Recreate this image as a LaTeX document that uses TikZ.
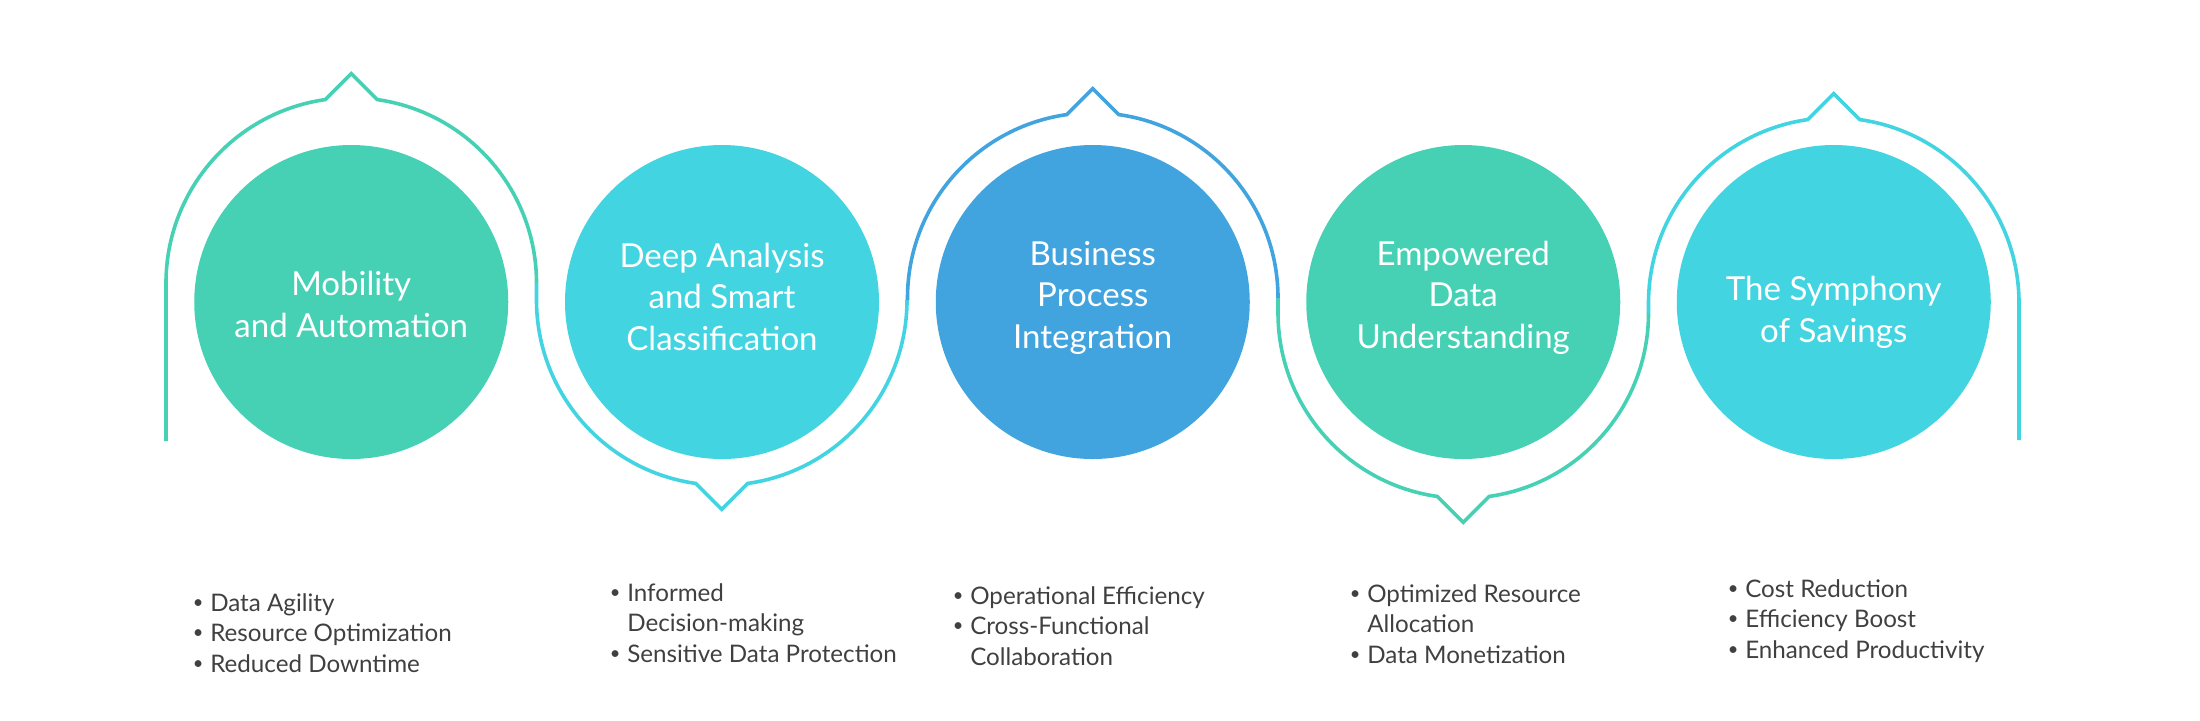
\documentclass[tikz,border=0pt]{standalone}
\usepackage{fontspec}
\setmainfont{Lato}
\definecolor{cgreen}{HTML}{46D1B5}
\definecolor{ccyan}{HTML}{42D4E0}
\definecolor{cblue}{HTML}{42A4DE}
\definecolor{ctext}{HTML}{404040}
\newcommand\lbul{\makebox[12.45pt][l]{\raisebox{0.12em}{\fontsize{13}{13}\selectfont\textbullet}}}
\newcommand\lind{\makebox[12.45pt]{}}
\begin{document}
\begin{tikzpicture}[x=0.25mm, y=-0.25mm,
  disc/.style={circle, minimum size=78.5mm, inner sep=0pt, draw=none},
  title/.style={text=white, align=center, font=\fontsize{23.5}{29.2}\selectfont, inner sep=0pt, anchor=base},
  blist/.style={text=ctext, align=left, font=\fontsize{17.2}{21.5}\selectfont, inner sep=0pt, anchor=base west},
  wire/.style={line width=0.9mm, line join=miter}
]
\useasboundingbox (0,0) rectangle (2200,720);

% circles
\node[disc, fill=cgreen] (c1) at (351.25,302) {};
\node[disc, fill=ccyan]  (c2) at (722,302) {};
\node[disc, fill=cblue]  (c3) at (1092.75,302) {};
\node[disc, fill=cgreen] (c4) at (1463.25,302) {};
\node[disc, fill=ccyan]  (c5) at (1833.75,302) {};

% wire end points
\coordinate (w0) at (166,441);
\coordinate (j1) at (536.5,283);
\coordinate (j2) at (907.5,300);
\coordinate (j3) at (1278,298);
\coordinate (j4) at (1648.5,313);
\coordinate (w5) at (2019,440);

% wire segments
\draw[wire, cgreen] (w0) -- (166,283)
  arc[start angle=180, end angle=98.07, radius=46.3125mm]
  -- ++(26,-26) -- ++(26,26)
  arc[start angle=81.93, end angle=0, radius=46.3125mm];
\draw[wire, ccyan] (j1) -- (536.5,300)
  arc[start angle=180, end angle=261.93, radius=46.3125mm]
  -- ++(26,26) -- ++(26,-26)
  arc[start angle=278.07, end angle=360, radius=46.3125mm];
\draw[wire, cblue] (j2) -- (907.5,298)
  arc[start angle=180, end angle=98.07, radius=46.3125mm]
  -- ++(26,-26) -- ++(26,26)
  arc[start angle=81.93, end angle=0, radius=46.3125mm];
\draw[wire, cgreen] (j3) -- (1278,313)
  arc[start angle=180, end angle=261.93, radius=46.3125mm]
  -- ++(26,26) -- ++(26,-26)
  arc[start angle=278.07, end angle=360, radius=46.3125mm];
\draw[wire, ccyan] (j4) -- (1648.5,303)
  arc[start angle=180, end angle=98.07, radius=46.3125mm]
  -- ++(26,-26) -- ++(26,26)
  arc[start angle=81.93, end angle=0, radius=46.3125mm]
  -- (w5);

% titles (anchor = baseline of last line)
\node[title] (t1) at (351.25,337) {Mobility\\and Automation};
\node[title] (t2) at (722,350) {Deep Analysis\\and Smart\\Classification};
\node[title] (t3) at (1092.75,348) {Business\\Process\\Integration};
\node[title] (t4) at (1463.25,348) {Empowered\\Data\\Understanding};
\node[title] (t5) at (1833.75,342) {The Symphony\\of Savings};

% bullet lists (anchor = baseline of last line)
\node[blist] (l1) at (192.5,672) {\lbul Data Agility\\\lbul Resource Optimization\\\lbul Reduced Downtime};
\node[blist] (l2) at (609.5,662) {\lbul Informed\\\lind Decision-making\\\lbul Sensitive Data Protection};
\node[blist] (l3) at (952.5,665) {\lbul Operational Efficiency\\\lbul Cross-Functional\\\lind Collaboration};
\node[blist] (l4) at (1349.5,663) {\lbul Optimized Resource\\\lind Allocation\\\lbul Data Monetization};
\node[blist] (l5) at (1727.5,658) {\lbul Cost Reduction\\\lbul Efficiency Boost\\\lbul Enhanced Productivity};
\end{tikzpicture}
\end{document}
